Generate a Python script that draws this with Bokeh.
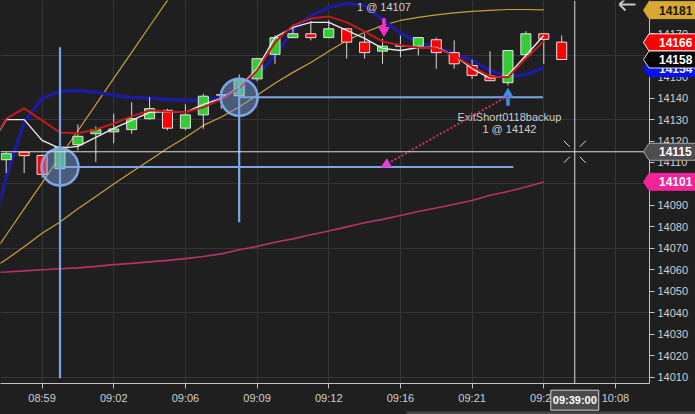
from bokeh.plotting import figure
from bokeh.layouts import column
from bokeh.models import (FixedTicker, Span, Arrow, NormalHead, Range1d, GlobalInlineStyleSheet)
from bokeh.core.properties import value
from bokeh.embed import file_html
from bokeh.resources import INLINE

# ---------------- data ----------------
bars = list(range(32))
opens = [14111.3, 14114.8, 14113.3, 14107.1, 14118.3, 14123.4, 14124.3, 14125.3, 14130.4, 14134.3,
         14126.0, 14132.2, 14141.5, 14141.1, 14149.0, 14160.4, 14168.2, 14170.0, 14168.2, 14172.3,
         14166.1, 14161.9, 14164.2, 14164.2, 14167.2, 14161.2, 14155.2, 14150.3, 14147.2, 14160.2,
         14170.0, 14166.1]
highs = [14114.8, 14115.0, 14113.8, 14117.8, 14127.7, 14126.8, 14132.7, 14138.1, 14140.5, 14135.0,
         14137.1, 14142.0, 14143.5, 14151.0, 14158.6, 14169.2, 14173.8, 14176.0, 14176.2, 14172.5,
         14170.0, 14167.7, 14169.2, 14168.3, 14168.2, 14166.9, 14157.9, 14161.9, 14162.3, 14171.2,
         14170.2, 14169.2]
lows = [14105.1, 14105.1, 14103.0, 14105.5, 14115.6, 14110.2, 14119.0, 14123.4, 14130.0, 14125.0,
        14125.0, 14125.7, 14135.0, 14140.0, 14147.9, 14156.0, 14168.0, 14166.9, 14168.0, 14158.4,
        14158.4, 14156.0, 14159.1, 14159.9, 14153.7, 14153.7, 14149.0, 14148.0, 14145.9, 14158.4,
        14156.0, 14158.4]
closes = [14114.1, 14113.2, 14104.5, 14117.2, 14122.2, 14125.3, 14125.6, 14130.4, 14135.1, 14126.0,
          14132.2, 14140.9, 14141.5, 14148.6, 14158.4, 14168.2, 14170.0, 14168.2, 14172.3, 14166.1,
          14161.2, 14164.2, 14164.4, 14168.2, 14161.2, 14156.0, 14150.6, 14148.1, 14162.2, 14170.0,
          14167.4, 14158.0]

line_bars = list(range(-1, 31))
blue_ma = [14070.0, 14103.5, 14128.7, 14139.9, 14143.1, 14143.6, 14142.8, 14141.3, 14140.3, 14139.9,
           14139.4, 14139.0, 14139.0, 14140.3, 14144.5, 14150.6, 14159.9, 14171.6, 14178.5, 14182.3,
           14184.1, 14183.2, 14176.6, 14170.3, 14166.0, 14163.4, 14160.9, 14157.6, 14152.9, 14150.1,
           14151.0, 14154.3]
red_ma = [14116.0, 14130.5, 14135.2, 14129.6, 14124.0, 14123.6, 14125.4, 14128.2, 14131.5, 14134.3,
          14133.8, 14133.4, 14135.7, 14139.4, 14144.5, 14152.9, 14166.0, 14173.9, 14177.1, 14178.1,
          14175.3, 14171.1, 14166.4, 14164.6, 14163.6, 14163.2, 14159.9, 14154.8, 14150.1, 14149.7,
          14158.5, 14166.5]
white_ma = [14116.0, 14130.0, 14130.0, 14120.3, 14116.6, 14117.5, 14121.7, 14125.9, 14129.6, 14133.4,
            14133.8, 14133.4, 14137.1, 14139.9, 14145.0, 14153.8, 14168.3, 14173.0, 14175.3, 14175.3,
            14171.6, 14167.8, 14163.2, 14162.2, 14163.6, 14163.6, 14159.9, 14153.8, 14149.2, 14150.6,
            14159.9, 14169.2]
magenta_ma = [14058.6, 14059.0, 14059.5, 14060.0, 14060.5, 14060.9, 14061.6, 14062.4, 14063.0, 14063.7,
              14064.4, 14065.2, 14066.2, 14067.4, 14069.3, 14070.9, 14072.8, 14074.4, 14076.3, 14078.1,
              14080.0, 14081.9, 14083.5, 14085.3, 14087.2, 14088.8, 14090.5, 14092.3, 14094.7, 14096.5,
              14098.6, 14100.9]
gold_slow = [14059.3, 14064.8, 14070.7, 14077.0, 14082.3, 14088.4, 14094.2, 14100.0, 14105.6, 14111.0,
             14116.6, 14121.7, 14127.3, 14131.2, 14135.9, 14141.3, 14146.9, 14152.0, 14156.6, 14161.8,
             14166.9, 14170.6, 14173.9, 14176.2, 14177.6, 14178.8, 14179.7, 14180.4, 14180.9, 14181.3,
             14181.3, 14181.1]
gold_fast_bars = list(range(-1, 11))
gold_fast = [14064.0, 14076.2, 14088.4, 14100.5, 14112.7, 14124.8, 14137.0, 14149.2, 14161.3, 14173.5,
             14185.6, 14197.8]

x_tick_bars = [2, 6, 10, 14, 18, 22, 26, 30, 34]
x_tick_labels = ["08:59", "09:02", "09:06", "09:09", "09:12", "09:16", "09:21", "09:27", "10:08"]
y_ticks = list(range(14010, 14190, 10))
y_grid = list(range(14010, 14190, 30))

# trade drawings
entry_bar, entry_price = 3, 14107.9
entry_line_top, entry_line_bottom, entry_line_end = 14163.7, 14009.4, 28.3
exit_bar, exit_price = 13, 14140.4
exit_line_top, exit_line_bottom, exit_line_end = 14148.0, 14082.2, 29.95
short_bar, short_price, short_text = 21.08, 14107.8, "1 @ 14107"
cover_bar, cover_price = 28.0, 14141.0
cover_texts = ["ExitShort0118backup", "1 @ 14142"]

cross_bar, cross_price, cross_time = 31.73, 14115, "09:39:00"

marker_prices = [14154, 14181, 14166, 14158, 14115, 14101]
marker_fills = ["#0a10f2", "#d9a733", "#ff0000", "#050505", "#4d4d52", "#f0259a"]
marker_texts = ["#e8ebff", "#151515", "#ffffff", "#ffffff", "#ffffff", "#ffffff"]
marker_borders = ["#0a10f2", "#d9a733", "#f0f0f0", "#dcdcdc", "#a8a8a8", "#f0259a"]

# ---------------- styling ----------------
BG = "#1f1f1f"
GRID = "#353535"
AXIS = "#c4c4c4"
TXT = "#cfcfcf"
FONT = "Liberation Sans"
W, H = 695, 414
FR_W, FR_H = 649, 383
X0, X1 = -0.32, 35.9
Y0, Y1 = 14007.0, 14185.5
px_x = FR_W / (X1 - X0)
px_y = FR_H / (Y1 - Y0)


def bx(px):  # horizontal pixel of the canvas -> bar units
    return X0 + px / px_x


def py(pix):  # vertical pixel (from top) -> price units
    return Y1 - pix / px_y


p = figure(width=W, height=H, output_backend="svg", toolbar_location=None,
           x_range=Range1d(X0, X1), y_range=Range1d(Y0, Y1), y_axis_location="right",
           min_border_left=0, min_border_top=0, min_border_right=W - FR_W,
           min_border_bottom=H - FR_H,
           stylesheets=[GlobalInlineStyleSheet(css="body{background:#1f1f1f;}")])
p.background_fill_color = BG
p.border_fill_color = BG
p.outline_line_color = None

p.xgrid.grid_line_color = GRID
p.ygrid.grid_line_color = GRID
p.ygrid.ticker = FixedTicker(ticks=y_grid)

for ax in (p.xaxis[0], p.yaxis[0]):
    ax.axis_line_color = AXIS
    ax.major_tick_line_color = AXIS
    ax.minor_tick_line_color = None
    ax.major_tick_in = 0
    ax.major_tick_out = 5
    ax.major_label_text_color = TXT
    ax.major_label_text_font = FONT
    ax.major_label_text_font_size = "11px"
    ax.major_label_standoff = 3
p.xaxis.ticker = FixedTicker(ticks=x_tick_bars)
p.xaxis.major_label_overrides = {b: l for b, l in zip(x_tick_bars, x_tick_labels)}
p.yaxis.ticker = FixedTicker(ticks=y_ticks)

# ---------------- indicator lines ----------------
p.line(gold_fast_bars, gold_fast, line_color="#c9a03c", line_width=1.2)
p.line(line_bars, gold_slow, line_color="#c9a03c", line_width=1.2)
p.line(line_bars, magenta_ma, line_color="#b8306c", line_width=1.6)
p.line(line_bars, blue_ma, line_color="#1c1c9e", line_width=3.5)

# ---------------- candles ----------------
tops = [max(o, c) for o, c in zip(opens, closes)]
bots = [min(o, c) for o, c in zip(opens, closes)]
cols = ["#33cc33" if c >= o else "#ff0000" for o, c in zip(opens, closes)]
p.segment(x0=bars, y0=lows, x1=bars, y1=highs, line_color="#d9d9d9", line_width=1)
p.vbar(x=bars, width=0.56, top=tops, bottom=bots, fill_color=cols,
       line_color="#e4e4e4", line_width=1)

p.line(line_bars, white_ma, line_color="#ececec", line_width=1.4)
p.line(line_bars, red_ma, line_color="#c41a1a", line_width=2)

# ---------------- drawing objects ----------------
BL = "#7ea6e6"
p.segment(x0=[entry_bar, entry_bar, exit_bar, exit_bar],
          y0=[entry_line_bottom, entry_price, exit_line_bottom, exit_price],
          x1=[entry_bar, entry_line_end, exit_bar, exit_line_end],
          y1=[entry_line_top, entry_price, exit_line_top, exit_price],
          line_color=BL, line_width=2.2)
p.scatter([entry_bar, exit_bar], [entry_price, exit_price], size=37, marker="circle",
          fill_color=BL, fill_alpha=0.45, line_color=BL, line_width=2.5)

p.add_layout(Arrow(x_start=cover_bar, y_start=cover_price, x_end=short_bar - 0.15, y_end=short_price,
                   line_color="#c8336a", line_width=2, line_dash="2 2",
                   end=NormalHead(size=9, fill_color="#e23fd8", line_color="#e23fd8")))

p.segment(x0=[short_bar], y0=[14177.2], x1=[short_bar], y1=[14173.0], line_color="#ff2bd6", line_width=3.5)
p.scatter([short_bar], [14171.6], marker="inverted_triangle", size=10,
          fill_color="#ff2bd6", line_color="#ff2bd6")
p.segment(x0=[cover_bar], y0=[14136.4], x1=[cover_bar], y1=[14140.0], line_color="#3d8fe8", line_width=3.5)
p.scatter([cover_bar], [14141.8], marker="triangle", size=10,
          fill_color="#3d8fe8", line_color="#3d8fe8")

p.text(x=[short_bar], y=[14182.4], text=[short_text], text_font=value(FONT),
       text_font_size="11px", text_color=TXT, text_align="center", text_baseline="middle")
p.text(x=[cover_bar + 0.08, cover_bar + 0.08], y=[14131.2, 14125.8], text=cover_texts,
       text_font=value(FONT), text_font_size="11px", text_color=TXT,
       text_align="center", text_baseline="middle")

# navigation arrow (top right)
ax_l, ax_r, ax_y, ax_h = 619, 635, 4, 6
p.segment(x0=[bx(ax_l), bx(ax_l), bx(ax_l)], y0=[py(ax_y)] * 3,
          x1=[bx(ax_r), bx(ax_l + ax_h), bx(ax_l + ax_h)],
          y1=[py(ax_y), py(ax_y - ax_h), py(ax_y + ax_h)],
          line_color="#c8c8c8", line_width=2)

# ---------------- crosshair ----------------
p.add_layout(Span(location=cross_price, dimension="width", line_color="#dedede", line_width=1))
p.add_layout(Span(location=cross_bar, dimension="height", line_color="#dedede", line_width=1))
r1, r2 = 5, 11
sx0, sy0, sx1, sy1 = [], [], [], []
for dx, dy in [(-1, -1), (1, -1), (-1, 1), (1, 1)]:
    sx0.append(cross_bar + dx * r1 / px_x); sy0.append(cross_price + dy * r1 / px_y)
    sx1.append(cross_bar + dx * r2 / px_x); sy1.append(cross_price + dy * r2 / px_y)
p.segment(x0=sx0, y0=sy0, x1=sx1, y1=sy1, line_color="#dedede", line_width=1)

# ---------------- overlay (price flags on the axis, time box, scrollbar) ----------------
ov = figure(width=W, height=H, output_backend="svg", toolbar_location=None,
            x_range=Range1d(X0, bx(W)), y_range=Range1d(py(H), Y1),
            x_axis_location=None, y_axis_location=None,
            min_border_left=0, min_border_right=0, min_border_top=0, min_border_bottom=0,
            margin=(-H, 0, 0, 0))
if "frame_align" in p.properties():
    p.frame_align = False
    ov.frame_align = False
ov.grid.visible = False
ov.background_fill_alpha = 0
ov.border_fill_alpha = 0
ov.outline_line_color = None

hh = 8.5 / px_y
tip, left, right = bx(643), bx(648.5), bx(W + 6)
for pr, fc, tc, bc in zip(marker_prices, marker_fills, marker_texts, marker_borders):
    ov.patch(x=[tip, left, right, right, left], y=[pr, pr + hh, pr + hh, pr - hh, pr - hh],
             fill_color=fc, line_color=bc, line_width=1)
    ov.text(x=[bx(658.5)], y=[pr], text=[str(pr)], text_font=value(FONT), text_font_size="12px",
            text_font_style="bold", text_color=tc, text_align="left", text_baseline="middle")

tb_y, tb_w, tb_h = 399.7, 48, 20
ov.quad(left=[cross_bar - tb_w / 2 / px_x], right=[cross_bar + tb_w / 2 / px_x],
        top=[py(tb_y - tb_h / 2)], bottom=[py(tb_y + tb_h / 2)],
        fill_color="#4a4a4f", line_color="#d0d0d0", line_width=1)
ov.text(x=[cross_bar], y=[py(tb_y)], text=[cross_time], text_font=value(FONT),
        text_font_size="11px", text_font_style="bold", text_color="#ffffff",
        text_align="center", text_baseline="middle")

# thin scrollbar strip at the very bottom
ov.quad(left=[bx(406)], right=[bx(W + 2)], top=[py(411)], bottom=[py(414)],
        fill_color="#474747", line_color=None)

layout = column(p, ov, spacing=0)
open("out.html", "w").write(file_html(layout, INLINE))
